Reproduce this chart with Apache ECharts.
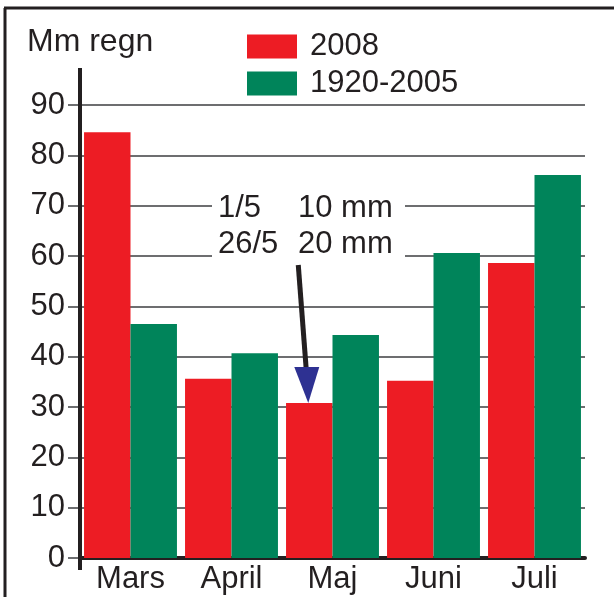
<!DOCTYPE html>
<html lang="sv">
<head>
<meta charset="UTF-8">
<title>Mm regn</title>
<script src="https://cdn.jsdelivr.net/npm/echarts@6/dist/echarts.min.js"></script>
<style>
  html, body { margin: 0; padding: 0; background: #fff; }
  #chart { width: 614px; height: 597px; }
</style>
</head>
<body>
<div id="chart"></div>
<script type="text/javascript">
  // data
  var months = ['Mars', 'April', 'Maj', 'Juni', 'Juli'];
  var rain2008 = [84.6, 35.6, 30.8, 35.2, 58.6];
  var rainNormal = [46.5, 40.7, 44.3, 60.6, 76.1];
  var seriesNames = ['2008', '1920-2005'];
  var noteDates = ['1/5', '26/5'];
  var noteAmounts = ['10 mm', '20 mm'];

  var font = '"Liberation Sans", Arial, sans-serif';
  var ink = '#231f20';
  var gridLeft = 80;
  var gapPct = 8;
  var myChart = echarts.init(document.getElementById('chart'));

  myChart.setOption({
    animation: false,
    textStyle: { fontFamily: font },
    grid: { left: gridLeft, right: 29, top: 105, bottom: 39 },
    legend: {
      orient: 'vertical',
      left: 242,
      top: 26,
      itemWidth: 50,
      itemHeight: 24,
      itemGap: 6,
      icon: 'rect',
      textStyle: { fontSize: 31, lineHeight: 24, color: ink, fontFamily: font, padding: [3, 0, 0, 8] },
      data: seriesNames
    },
    xAxis: {
      type: 'category',
      data: months,
      axisLine: { lineStyle: { color: ink, width: 4 } },
      axisTick: { show: false },
      axisLabel: { fontSize: 31, color: ink, margin: 6, fontFamily: font }
    },
    yAxis: {
      type: 'value',
      min: 0,
      max: 90,
      interval: 10,
      axisLine: { show: false },
      axisTick: { show: true, length: 12, lineStyle: { color: '#6d6e70', width: 2 } },
      axisLabel: { fontSize: 31, color: ink, margin: 15, fontFamily: font },
      splitLine: { lineStyle: { color: '#6d6e70', width: 2 } }
    },
    series: [
      {
        name: seriesNames[0],
        type: 'bar',
        data: rain2008,
        barGap: 0,
        barCategoryGap: gapPct + '%',
        itemStyle: { color: '#ed1c24' }
      },
      {
        name: seriesNames[1],
        type: 'bar',
        data: rainNormal,
        barGap: 0,
        barCategoryGap: gapPct + '%',
        itemStyle: { color: '#00845a' }
      }
    ]
  });

  // extras: frame, long y axis line, title, note and arrow
  var zeroY = myChart.convertToPixel({ yAxisIndex: 0 }, 0);
  var tip = myChart.convertToPixel({ seriesIndex: 0 }, [2, rain2008[2]]);
  var nextCat = myChart.convertToPixel({ seriesIndex: 0 }, [3, rain2008[2]]);
  var catW = nextCat[0] - tip[0];
  var barW = catW * (1 - gapPct / 100) / 2;
  var arrowX = tip[0] - barW / 2 - 1;  // centre of the Maj 2008 bar
  var arrowTop = tip[1];

  var noteText = [];
  noteDates.forEach(function (d, i) {
    noteText.push({ type: 'text', z: 6, x: 218, y: 208 + i * 36, style: { text: d, font: '31px ' + font, fill: ink, verticalAlign: 'middle' } });
    noteText.push({ type: 'text', z: 6, x: 298, y: 208 + i * 36, style: { text: noteAmounts[i], font: '31px ' + font, fill: ink, verticalAlign: 'middle' } });
  });

  myChart.setOption({
    graphic: [
      { type: 'line', shape: { x1: 5, y1: 8, x2: 5, y2: 597 }, style: { stroke: ink, lineWidth: 3 } },
      { type: 'line', shape: { x1: 4, y1: 8, x2: 614, y2: 8 }, style: { stroke: ink, lineWidth: 3 } },
      { type: 'line', z: 10, shape: { x1: gridLeft, y1: 68, x2: gridLeft, y2: zeroY + 12 }, style: { stroke: ink, lineWidth: 4 } },
      { type: 'text', x: 27, y: 42, style: { text: 'Mm regn', font: '32px ' + font, fill: ink, verticalAlign: 'middle' } },
      { type: 'rect', z: 5, shape: { x: 212, y: 190, width: 193, height: 72 }, style: { fill: '#fff' } },
      { type: 'line', z: 6, shape: { x1: arrowX - 10, y1: 265, x2: arrowX - 2, y2: arrowTop - 33 }, style: { stroke: ink, lineWidth: 5 } },
      { type: 'polygon', z: 7, shape: { points: [[arrowX - 14, arrowTop - 36], [arrowX + 11, arrowTop - 36], [arrowX, arrowTop]] }, style: { fill: '#2e3192' } }
    ].concat(noteText)
  });
</script>
</body>
</html>
